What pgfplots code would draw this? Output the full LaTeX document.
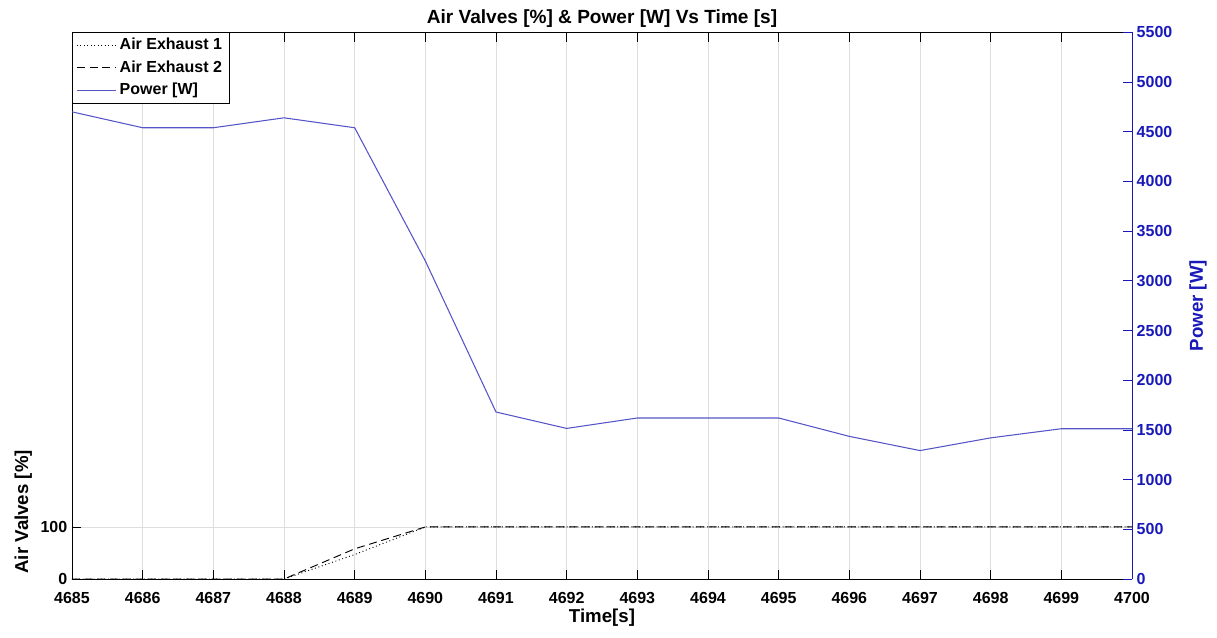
\documentclass[border=0pt]{standalone}
\usepackage{fontspec}
\setmainfont{Liberation Sans}
\usepackage{pgfplots}
\pgfplotsset{compat=1.18}

\definecolor{pwrline}{RGB}{85,85,200}
\definecolor{pwrax}{RGB}{25,25,185}
\definecolor{gridc}{RGB}{222,222,222}

\pgfplotsset{
  common/.style={
    at={(54pt,43.5pt)}, anchor=south west,
    scale only axis, width=795pt, height=410pt,
    xmin=4685, xmax=4700,
    tick align=inside,
    major tick length=7pt,
    /pgf/number format/assume math mode=true,
    /pgf/number format/set thousands separator={},
    tick label style={font=\bfseries\fontsize{12}{14}\selectfont},
    label style={font=\bfseries\fontsize{14}{16}\selectfont},
  },
}

\begin{document}
\begin{tikzpicture}
\useasboundingbox (0,0) rectangle (912.75pt,477.75pt);

% valve openings on the left axis
\begin{axis}[common,
  axis y line*=left,
  ymin=0, ymax=1050,
  ytick={0,100},
  xtick={4685,4686,...,4700},
  xtick pos=both,
  xmajorgrids, ymajorgrids,
  grid style={gridc, line width=0.6pt},
  axis line style={black, line width=0.6pt},
  tick style={black, line width=0.6pt},
  xlabel={Time[s]},
  xlabel style={yshift=3pt},
  xticklabel style={yshift=-6.5pt},
  ylabel={Air Valves [\%]},
  ylabel style={at={(axis description cs:-0.046,0.123)}, anchor=center},
  title={Air Valves [\%] \& Power [W] Vs Time [s]},
  title style={font=\bfseries\fontsize{14.3}{16}\selectfont, yshift=-5.5pt},
]
\addplot[black, dotted, line width=0.7pt] coordinates {
  (4685,0) (4686,0) (4687,0) (4688,0) (4689,47) (4690,100) (4691,100) (4692,100)
  (4693,100) (4694,100) (4695,100) (4696,100) (4697,100) (4698,100) (4699,100) (4700,100)
};
\addplot[black, dash pattern=on 6pt off 3.5pt, line width=0.7pt] coordinates {
  (4685,0) (4686,0) (4687,0) (4688,0) (4689,58) (4690,100) (4691,100) (4692,100)
  (4693,100) (4694,100) (4695,100) (4696,100) (4697,100) (4698,100) (4699,100) (4700,100)
};
\end{axis}

% electrical power on the right axis
\begin{axis}[common,
  axis y line*=right,
  axis x line=none,
  ymin=0, ymax=5500,
  ytick={0,500,...,5500},
  y axis line style={pwrax, line width=0.6pt},
  ytick style={pwrax, line width=0.6pt},
  yticklabel style={pwrax},
  ylabel={Power [W]},
  ylabel style={pwrax, at={(axis description cs:1.0623,0.5)}, anchor=center},
  legend style={at={(0,1)}, anchor=north west, draw=black, line width=0.6pt,
    font=\bfseries\fontsize{12}{14}\selectfont, inner xsep=3pt, inner ysep=1pt,
    nodes={inner sep=2.7pt, text height=9pt, text depth=2.5pt}, row sep=0pt},
  legend cell align=left,
  legend image code/.code={\draw[#1] (0pt,0pt) -- (29pt,0pt);},
]
\addlegendimage{black, dotted, line width=0.6pt}
\addlegendentry{Air Exhaust 1}
\addlegendimage{black, dash pattern=on 6pt off 3.5pt, line width=0.6pt}
\addlegendentry{Air Exhaust 2}
\addplot[pwrline, line width=0.8pt] coordinates {
  (4685,4700) (4686,4540) (4687,4540) (4688,4640) (4689,4540) (4690,3200) (4691,1680)
  (4692,1515) (4693,1620) (4694,1620) (4695,1620) (4696,1435) (4697,1292) (4698,1420)
  (4699,1512) (4700,1512)
};
\addlegendentry{Power [W]}
\end{axis}
\end{tikzpicture}
\end{document}
